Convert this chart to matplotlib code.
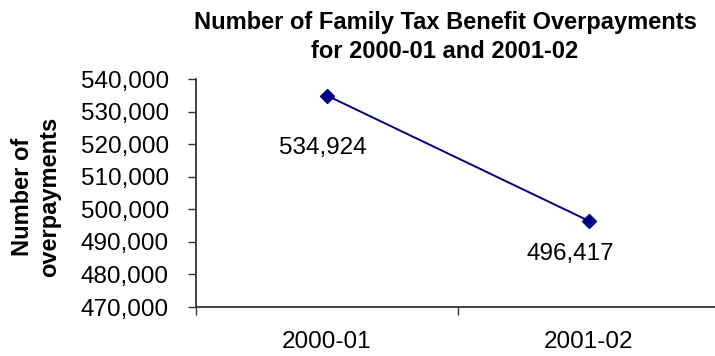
import matplotlib.pyplot as plt
from matplotlib.ticker import FuncFormatter

plt.rcParams['font.family'] = ['Liberation Sans', 'DejaVu Sans']

years = ['2000-01', '2001-02']
overpayments = [534924, 496417]
# label offsets in points (Excel placed them by hand)
label_offsets = [(-3.2, -38), (-13.7, -24)]

fig = plt.figure(figsize=(7.15, 3.56), dpi=100)
ax = fig.add_axes([0.2741, 0.1376, 0.7329, 0.6404])

x = list(range(len(years)))
ax.plot(x, overpayments, color='#000080', linewidth=1.4, marker='D',
        markersize=7, markerfacecolor='#000080', markeredgecolor='#000080')

for xi, v, off in zip(x, overpayments, label_offsets):
    ax.annotate(f'{v:,}', (xi, v), xytext=off, textcoords='offset points',
                ha='center', va='center', fontsize=17.5)

ax.set_xlim(-0.5, 1.5)
ax.set_ylim(470000, 540000)
ax.set_yticks(range(470000, 540001, 10000))
ax.yaxis.set_major_formatter(FuncFormatter(lambda v, p: f'{int(v):,}'))
# category boundaries (the last one falls off the right edge)
ax.set_xticks([-0.5, 0.5])
ax.set_xticklabels([])
ax.set_xticks(x, minor=True)
ax.set_xticklabels(years, minor=True, fontsize=17.5)
ax.tick_params(axis='x', which='minor', length=0, pad=17)
ax.tick_params(axis='x', which='major', direction='out', length=5.5, width=1, color='#333333')
ax.tick_params(axis='y', direction='out', length=5.5, width=1, color='#333333',
                labelsize=17.5, pad=14)

for s in ['top', 'right']:
    ax.spines[s].set_visible(False)
for s in ['left', 'bottom']:
    ax.spines[s].set_color('#333333')
    ax.spines[s].set_linewidth(1.3)

fig.text(445 / 715, 1 - 37 / 356, 'Number of Family Tax Benefit Overpayments\nfor 2000-01 and 2001-02',
         ha='center', va='center', fontsize=17, fontweight='bold', linespacing=1.3)
fig.text(36 / 715, 1 - 197 / 356, 'Number of\noverpayments', rotation=90, ha='center', va='center',
         fontsize=17, fontweight='bold', linespacing=1.25)

fig.savefig('out.png', dpi=100)
